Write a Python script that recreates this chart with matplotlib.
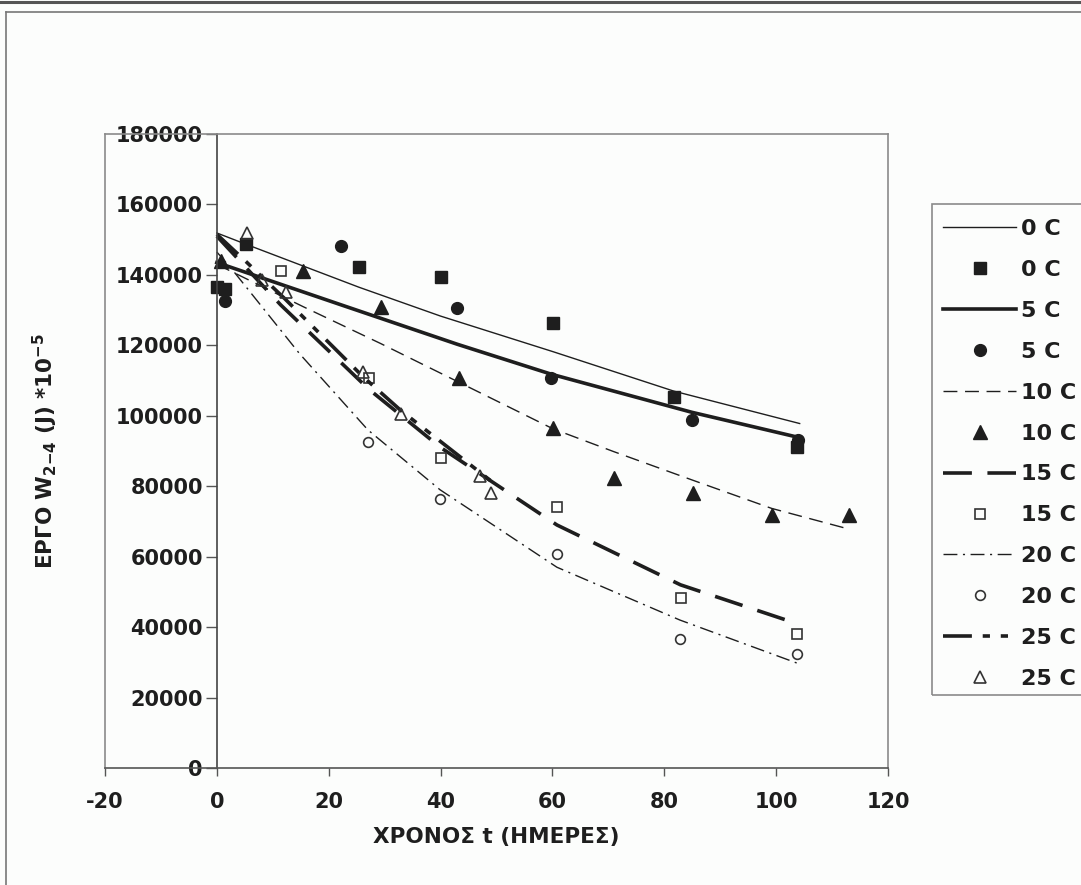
import matplotlib.pyplot as plt
from matplotlib.lines import Line2D
from matplotlib.patches import Rectangle

plt.rcParams['font.family'] = ['DejaVu Sans']
plt.rcParams['font.weight'] = 'bold'
plt.rcParams['axes.unicode_minus'] = False
plt.rcParams['mathtext.fontset'] = 'custom'
plt.rcParams['mathtext.rm'] = 'DejaVu Sans:bold'
plt.rcParams['mathtext.it'] = 'DejaVu Sans:bold'
plt.rcParams['mathtext.bf'] = 'DejaVu Sans:bold'

# measured work W2-4 per storage temperature (t in days)
t_0 = [0, 1.5, 5.2, 25.4, 40.0, 60.1, 81.7, 103.8]
w_0 = [136500, 136000, 148800, 142100, 139300, 126400, 105200, 91100]

t_5 = [1.5, 22.2, 43.0, 59.8, 84.9, 103.9]
w_5 = [132500, 148300, 130500, 110600, 98700, 93000]

t_10 = [0.7, 15.4, 29.3, 43.3, 60.1, 71.0, 85.1, 99.2, 113.0]
w_10 = [144000, 141200, 130800, 110800, 96400, 82200, 78000, 71700, 71700]

t_15 = [11.4, 27.2, 40.0, 60.8, 82.9, 103.7]
w_15 = [141200, 110800, 87900, 74000, 48400, 38000]

t_20 = [27.0, 39.9, 60.8, 82.8, 103.7]
w_20 = [92500, 76300, 60700, 36500, 32500]

t_25 = [5.4, 8.0, 12.3, 26.2, 32.9, 47.0, 49.0]
w_25 = [151800, 138500, 135000, 112300, 100600, 82900, 78200]

# fitted curves
fit_t_0 = [0, 5.2, 25.4, 40.0, 60.1, 81.7, 104.2]
fit_w_0 = [151900, 148700, 136500, 128300, 118200, 107000, 97800]

fit_t_5 = [0, 1.5, 22.2, 43.0, 59.8, 84.9, 103.9]
fit_w_5 = [143500, 142700, 131500, 120300, 111800, 101000, 93900]

fit_t_10 = [0, 15.4, 29.3, 43.3, 60.1, 71.0, 85.1, 99.2, 112.6]
fit_w_10 = [143000, 131000, 120500, 109500, 96300, 89800, 81700, 73700, 68000]

fit_t_15 = [0, 11.4, 27.2, 40.0, 60.8, 82.9, 103.7]
fit_w_15 = [151000, 131500, 107500, 91000, 69000, 52000, 41000]

fit_t_20 = [0, 3.0, 14.8, 27.0, 39.9, 60.8, 82.8, 103.7]
fit_w_20 = [146500, 141000, 117600, 96000, 79000, 57000, 42000, 29800]

fit_t_25 = [0, 5.4, 8.0, 12.3, 26.2, 32.9, 47.0, 49.0]
fit_w_25 = [151500, 143500, 139500, 133000, 111000, 101500, 84000, 81500]

labels = ["0 C", "5 C", "10 C", "15 C", "20 C", "25 C"]

ink = "#1e1e1e"
grey = "#8a8a8a"
bg = "#fcfdfc"

fig = plt.figure(figsize=(10.81, 8.85), dpi=100, facecolor=bg)
ax = fig.add_axes([0.0971, 0.1322, 0.7244, 0.7164])
ax.set_facecolor(bg)

# 0 C
ax.plot(fit_t_0, fit_w_0, color=ink, lw=1.0, label=labels[0])
ax.plot(t_0, w_0, ls="none", marker="s", ms=8, color=ink, label=labels[0])
# 5 C
ax.plot(fit_t_5, fit_w_5, color=ink, lw=2.6, label=labels[1])
ax.plot(t_5, w_5, ls="none", marker="o", ms=8.5, color=ink, label=labels[1])
# 10 C
ax.plot(fit_t_10, fit_w_10, color=ink, lw=1.0, ls=(0, (10, 5.5)), label=labels[2])
ax.plot(t_10, w_10, ls="none", marker="^", ms=9.5, color=ink, label=labels[2])
# 15 C
ax.plot(fit_t_15, fit_w_15, color=ink, lw=2.6, ls=(0, (8, 4.3)), label=labels[3])
ax.plot(t_15, w_15, ls="none", marker="s", ms=7, mfc="none", mec="#333333",
        mew=1.2, label=labels[3])
# 20 C
ax.plot(fit_t_20, fit_w_20, color=ink, lw=1.0, ls=(0, (10, 4, 1.5, 4)), label=labels[4])
ax.plot(t_20, w_20, ls="none", marker="o", ms=7, mfc="none", mec="#333333",
        mew=1.2, label=labels[4])
# 25 C
ax.plot(fit_t_25, fit_w_25, color=ink, lw=2.6, ls=(0, (8, 3, 2, 3, 2, 3)), label=labels[5])
ax.plot(t_25, w_25, ls="none", marker="^", ms=8.5, mfc="none", mec="#333333",
        mew=1.2, label=labels[5])

ax.set_xlim(-20, 120)
ax.set_ylim(0, 180000)
ax.set_xticks(range(-20, 121, 20))
ax.set_yticks(range(0, 180001, 20000))

# value axis crosses at t = 0, plot area framed in grey
ax.spines["left"].set_position(("data", 0))
ax.spines["left"].set_color("#444444")
ax.spines["left"].set_linewidth(1.2)
for side in ["top", "right", "bottom"]:
    ax.spines[side].set_color(grey)
    ax.spines[side].set_linewidth(1.2)
ax.spines["bottom"].set_color("#555555")
ax.axvline(-20, color=grey, lw=1.2, clip_on=False)

ax.tick_params(axis="y", direction="out", length=8, width=1, pad=2,
               labelsize=15, colors="#555555", labelcolor="#1e1e1e")
ax.tick_params(axis="x", direction="out", length=6, width=1, pad=11,
               labelsize=15, colors="#555555", labelcolor="#1e1e1e")

fig.text(0.4593, 0.0542, "ΧΡΟΝΟΣ t (ΗΜΕΡΕΣ)", ha="center", va="center",
         fontsize=15.5, fontweight="bold", color="#1e1e1e")
fig.text(0.0416, 0.4905, r"ΕΡΓΟ W$_{2{-}4}$ (J) *10$^{-5}$", ha="center",
         va="center", rotation=90, fontsize=15.5, fontweight="bold", color="#1e1e1e")

leg = ax.legend(loc="upper left", bbox_to_anchor=(0.8622, 0.7650),
                bbox_transform=fig.transFigure, borderaxespad=0,
                fontsize=16, handlelength=3.3, handletextpad=0.2,
                borderpad=0.5, labelspacing=0.94, numpoints=1, frameon=False)
for txt in leg.get_texts():
    txt.set_color("#1e1e1e")

# legend box runs off the right edge of the chart area
fig.add_artist(Rectangle((932 / 1081, 1 - 695 / 885), 0.2, (695 - 204) / 885,
                         fill=False, edgecolor=grey, lw=1.2,
                         transform=fig.transFigure))

# chart area border
fig.add_artist(Line2D([6 / 1081, 6 / 1081], [0, 1 - 12 / 885],
                      color="#777777", lw=1.2, transform=fig.transFigure))
fig.add_artist(Line2D([6 / 1081, 1], [1 - 12 / 885, 1 - 12 / 885],
                      color="#777777", lw=1.2, transform=fig.transFigure))
fig.add_artist(Line2D([0, 1], [1 - 1.5 / 885, 1 - 1.5 / 885],
                      color="#555555", lw=2.2, transform=fig.transFigure))

fig.savefig("out.png", dpi=100, facecolor=fig.get_facecolor())
